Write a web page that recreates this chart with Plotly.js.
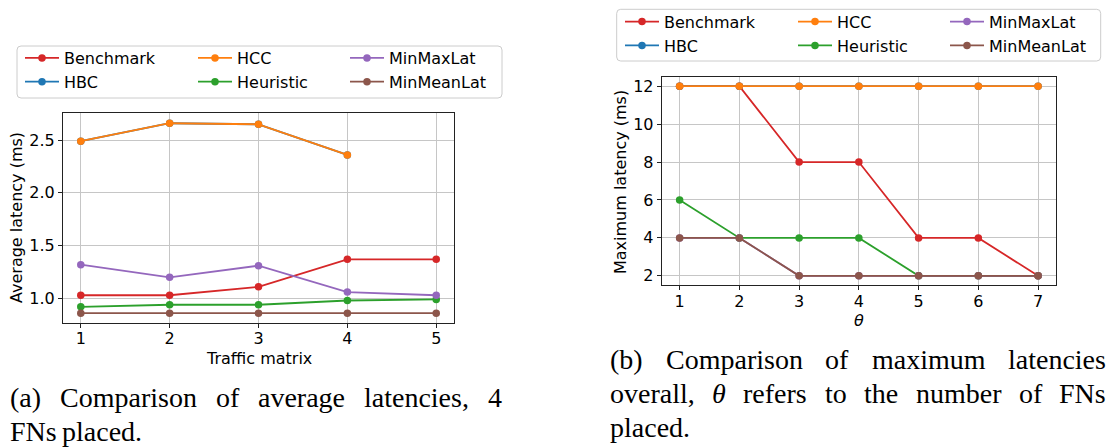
<!DOCTYPE html>
<html><head><meta charset="utf-8">
<script src="https://cdn.plot.ly/plotly-3.0.1.min.js"></script>
<style>html,body{margin:0;padding:0;background:#fff;} #chart{width:1106px;height:448px;}</style>
</head><body><div id="chart"></div>
<script>
// ---------- data ----------
const seriesNames = ['Benchmark', 'HBC', 'HCC', 'Heuristic', 'MinMaxLat', 'MinMeanLat'];
const seriesColors = ['#d62728', '#1f77b4', '#ff7f0e', '#2ca02c', '#9467bd', '#8c564b'];

// (a) average latency vs traffic matrix
const trafficMatrix = [1, 2, 3, 4, 5];
const avgBenchmark  = [1.03, 1.03, 1.11, 1.37, 1.37];
const avgHBC        = [2.49, 2.66, 2.65, 2.36];
const avgHCC        = [2.49, 2.66, 2.65, 2.36];
const avgHeuristic  = [0.92, 0.94, 0.94, 0.98, 0.99];
const avgMinMaxLat  = [1.32, 1.20, 1.31, 1.06, 1.03];
const avgMinMeanLat = [0.86, 0.86, 0.86, 0.86, 0.86];

// (b) maximum latency vs theta
const theta         = [1, 2, 3, 4, 5, 6, 7];
const maxBenchmark  = [12, 12, 8, 8, 4, 4, 2];
const maxHBC        = [12, 12, 12, 12, 12, 12, 12];
const maxHCC        = [12, 12, 12, 12, 12, 12, 12];
const maxHeuristic  = [6, 4, 4, 4, 2, 2, 2];
const maxMinMaxLat  = [4, 4, 2, 2, 2, 2, 2];
const maxMinMeanLat = [4, 4, 2, 2, 2, 2, 2];

const avgTicks = [1.0, 1.5, 2.0, 2.5];
const maxTicks = [2, 4, 6, 8, 10, 12];

const xTitleA = 'Traffic matrix';
const yTitleA = 'Average latency (ms)';
const xTitleB = '<i>θ</i>';
const yTitleB = 'Maximum latency (ms)';
const captionA = ['(a) Comparison of average latencies, 4', 'FNs placed.'];
const captionB = ['(b) Comparison of maximum latencies', 'overall, θ refers to the number of FNs', 'placed.'];

// ---------- layout helpers ----------
const W = 1106, H = 448;
const px = x => x / W;
const py = y => 1 - y / H;

const avgSeries = [avgBenchmark, avgHBC, avgHCC, avgHeuristic, avgMinMaxLat, avgMinMeanLat];
const maxSeries = [maxBenchmark, maxHBC, maxHCC, maxHeuristic, maxMinMaxLat, maxMinMeanLat];
const legendIdsA = ['legend', 'legend', 'legend2', 'legend2', 'legend3', 'legend3'];
const legendIdsB = ['legend4', 'legend4', 'legend5', 'legend5', 'legend6', 'legend6'];

const traces = [];
seriesNames.forEach((name, i) => {
  traces.push({
    x: trafficMatrix.slice(0, avgSeries[i].length), y: avgSeries[i], name: name,
    type: 'scatter', mode: 'lines+markers', xaxis: 'x', yaxis: 'y',
    line: {color: seriesColors[i], width: 1.8},
    marker: {color: seriesColors[i], size: 7.5},
    legend: legendIdsA[i], cliponaxis: false
  });
});
seriesNames.forEach((name, i) => {
  traces.push({
    x: theta.slice(0, maxSeries[i].length), y: maxSeries[i], name: name,
    type: 'scatter', mode: 'lines+markers', xaxis: 'x2', yaxis: 'y2',
    line: {color: seriesColors[i], width: 1.8},
    marker: {color: seriesColors[i], size: 7.5},
    legend: legendIdsB[i], cliponaxis: false
  });
});

const axisCommon = {
  showgrid: true, gridcolor: '#c6c6c6', gridwidth: 1,
  showline: true, mirror: true, linecolor: '#222', linewidth: 1,
  ticks: 'outside', ticklen: 4, tickwidth: 1, tickcolor: '#222',
  zeroline: false, fixedrange: true,
  tickfont: {family: 'DejaVu Sans', size: 16, color: '#000'}
};

function legendAt(left, top) {
  return {
    x: px(left), xanchor: 'left', y: py(top), yanchor: 'top',
    orientation: 'v', bgcolor: 'rgba(0,0,0,0)', borderwidth: 0,
    itemwidth: 34, tracegroupgap: 0,
    font: {family: 'DejaVu Sans', size: 16, color: '#000'}
  };
}

function roundRect(x0, y0, x1, y1, r) {
  const X = v => px(v), Y = v => py(v);
  const rx = r / W, ry = r / H;
  return {
    type: 'path', xref: 'paper', yref: 'paper', layer: 'below',
    path: `M${X(x0)+rx},${Y(y0)} L${X(x1)-rx},${Y(y0)} Q${X(x1)},${Y(y0)} ${X(x1)},${Y(y0)-ry} ` +
          `L${X(x1)},${Y(y1)+ry} Q${X(x1)},${Y(y1)} ${X(x1)-rx},${Y(y1)} ` +
          `L${X(x0)+rx},${Y(y1)} Q${X(x0)},${Y(y1)} ${X(x0)},${Y(y1)+ry} ` +
          `L${X(x0)},${Y(y0)-ry} Q${X(x0)},${Y(y0)} ${X(x0)+rx},${Y(y0)} Z`,
    line: {color: '#cccccc', width: 1}, fillcolor: '#ffffff'
  };
}

// ---------- captions (justified text, measured with canvas) ----------
const capFont = 28;
const capFamily = 'Liberation Serif';
const ctx = document.createElement('canvas').getContext('2d');
function wordWidth(w) {
  ctx.font = (w === 'θ' ? 'italic ' : '') + capFont + "px 'Liberation Serif', serif";
  return ctx.measureText(w).width;
}
const annotations = [];
function addCaption(lines, left, right, firstBaseline, lineStep) {
  lines.forEach((line, li) => {
    const words = line.split(' ');
    const widths = words.map(wordWidth);
    const total = widths.reduce((a, b) => a + b, 0);
    const last = li === lines.length - 1;
    const gap = (!last && words.length > 1) ? (right - left - total) / (words.length - 1) : capFont * 0.2;
    let x = left;
    const baseline = firstBaseline + li * lineStep;
    words.forEach((w, wi) => {
      annotations.push({
        xref: 'paper', yref: 'paper', x: px(x), y: py(baseline - 0.3375 * capFont),
        xanchor: 'left', yanchor: 'middle', showarrow: false, borderpad: 0,
        text: w === 'θ' ? '<i>θ</i>' : w,
        font: {family: capFamily, size: capFont, color: '#000'}
      });
      x += widths[wi] + gap;
    });
  });
}
addCaption(captionA, 9, 501, 407, 34);
addCaption(captionB, 609, 1105, 369, 34);

// axis titles
const titleFont = {family: 'DejaVu Sans', size: 16, color: '#000'};
annotations.push({xref: 'paper', yref: 'paper', x: px(258.5), y: py(358), text: xTitleA, showarrow: false, xanchor: 'center', yanchor: 'middle', font: titleFont});
annotations.push({xref: 'paper', yref: 'paper', x: px(17), y: py(218), text: yTitleA, showarrow: false, textangle: -90, xanchor: 'center', yanchor: 'middle', font: titleFont});
annotations.push({xref: 'paper', yref: 'paper', x: px(858.5), y: py(320), text: xTitleB, showarrow: false, xanchor: 'center', yanchor: 'middle', font: titleFont});
annotations.push({xref: 'paper', yref: 'paper', x: px(620), y: py(182), text: yTitleB, showarrow: false, textangle: -90, xanchor: 'center', yanchor: 'middle', font: titleFont});

const layout = {
  width: W, height: H,
  margin: {l: 0, r: 0, t: 0, b: 0},
  paper_bgcolor: '#ffffff', plot_bgcolor: '#ffffff',
  font: {family: 'DejaVu Sans', size: 16, color: '#000'},
  showlegend: true,
  xaxis: Object.assign({}, axisCommon, {domain: [px(63), px(454)], anchor: 'y', range: [0.8, 5.2], tickvals: trafficMatrix, ticklabelstandoff: -3}),
  yaxis: Object.assign({}, axisCommon, {domain: [py(323), py(113)], anchor: 'x', range: [0.767, 2.757], tickvals: avgTicks, tickformat: '.1f'}),
  xaxis2: Object.assign({}, axisCommon, {domain: [px(661.7), px(1056)], anchor: 'y2', range: [0.7, 7.3], tickvals: theta, ticklabelstandoff: -3}),
  yaxis2: Object.assign({}, axisCommon, {domain: [py(285.3), py(76.7)], anchor: 'x2', range: [1.5, 12.5], tickvals: maxTicks}),
  legend: legendAt(20, 41),
  legend2: legendAt(193, 41),
  legend3: legendAt(345, 41),
  legend4: legendAt(620, 4.7),
  legend5: legendAt(793, 4.7),
  legend6: legendAt(945, 4.7),
  shapes: [roundRect(17, 46, 502, 98, 4), roundRect(616.7, 9.3, 1100.7, 61, 4)],
  annotations: annotations
};

Plotly.newPlot('chart', traces, layout, {displayModeBar: false, staticPlot: true});
</script>
</body></html>
